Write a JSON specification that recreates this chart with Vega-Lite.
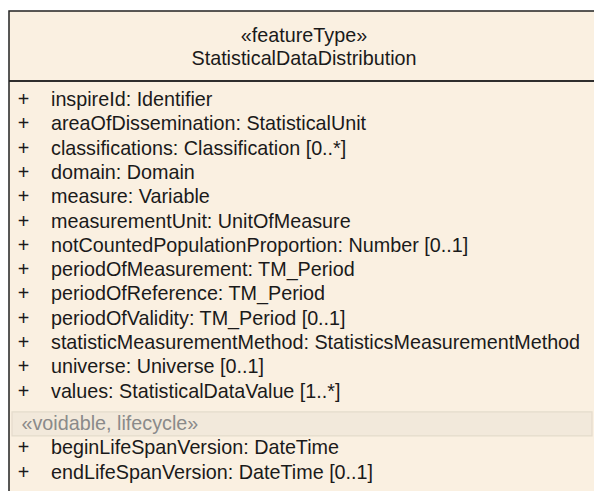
{
  "$schema": "https://vega.github.io/schema/vega-lite/v6.json",
  "width": 590,
  "height": 490,
  "autosize": {"type": "none"},
  "padding": {"left": 9, "top": 11, "right": -5, "bottom": -10},
  "background": "white",
  "config": {
    "view": {"fill": "#FAF0E1", "stroke": "#222222", "strokeWidth": 1.5},
    "text": {"font": "Liberation Sans", "fontSize": 19.75, "color": "#1A1A1A", "baseline": "middle"}
  },
  "datasets": {
    "header": [
      {"line": 0, "text": "«featureType»"},
      {"line": 1, "text": "StatisticalDataDistribution"}
    ],
    "body": [
      {"line": 0, "section": "main", "vis": "+", "text": "inspireId: Identifier"},
      {"line": 1, "section": "main", "vis": "+", "text": "areaOfDissemination: StatisticalUnit"},
      {"line": 2, "section": "main", "vis": "+", "text": "classifications: Classification [0..*]"},
      {"line": 3, "section": "main", "vis": "+", "text": "domain: Domain"},
      {"line": 4, "section": "main", "vis": "+", "text": "measure: Variable"},
      {"line": 5, "section": "main", "vis": "+", "text": "measurementUnit: UnitOfMeasure"},
      {"line": 6, "section": "main", "vis": "+", "text": "notCountedPopulationProportion: Number [0..1]"},
      {"line": 7, "section": "main", "vis": "+", "text": "periodOfMeasurement: TM_Period"},
      {"line": 8, "section": "main", "vis": "+", "text": "periodOfReference: TM_Period"},
      {"line": 9, "section": "main", "vis": "+", "text": "periodOfValidity: TM_Period [0..1]"},
      {"line": 10, "section": "main", "vis": "+", "text": "statisticMeasurementMethod: StatisticsMeasurementMethod"},
      {"line": 11, "section": "main", "vis": "+", "text": "universe: Universe [0..1]"},
      {"line": 12, "section": "main", "vis": "+", "text": "values: StatisticalDataValue [1..*]"},
      {"line": 13, "section": "group", "vis": "", "text": "«voidable, lifecycle»"},
      {"line": 14, "section": "lifecycle", "vis": "+", "text": "beginLifeSpanVersion: DateTime"},
      {"line": 15, "section": "lifecycle", "vis": "+", "text": "endLifeSpanVersion: DateTime [0..1]"}
    ]
  },
  "resolve": {"scale": {"y": "independent"}},
  "layer": [
    {
      "data": {"name": "header"},
      "encoding": {
        "y": {"field": "line", "type": "quantitative", "axis": null,
              "scale": {"domain": [0, 1], "range": [25, 48], "zero": false, "nice": false}}
      },
      "layer": [
        {"mark": {"type": "text", "align": "center", "x": {"expr": "width/2"}},
         "encoding": {"text": {"field": "text"}}},
        {"mark": {"type": "rule", "stroke": "#222222", "strokeWidth": 1.5},
         "encoding": {"y": {"datum": 1.96}}}
      ]
    },
    {
      "data": {"name": "body"},
      "encoding": {
        "y": {"field": "line", "type": "quantitative", "axis": null,
              "scale": {"domain": [0, 15], "range": [89, 453.5], "zero": false, "nice": false}}
      },
      "layer": [
        {"transform": [{"filter": "datum.section == 'group'"}],
         "mark": {"type": "rect", "x": 3, "x2": 583, "yOffset": -4, "y2Offset": 20, "fill": "#F2E9DB", "stroke": "#E4DBCC", "strokeWidth": 1.2},
         "encoding": {"y2": {"field": "line"}}},
        {"transform": [{"filter": "datum.section == 'group'"}],
         "mark": {"type": "text", "align": "left", "x": 12.5, "yOffset": 8, "color": "#8A8A8A"},
         "encoding": {"text": {"field": "text"}}},
        {"transform": [{"filter": "datum.section == 'main'"}],
         "mark": {"type": "text", "align": "center", "x": 14.5},
         "encoding": {"text": {"field": "vis"}}},
        {"transform": [{"filter": "datum.section == 'main'"}],
         "mark": {"type": "text", "align": "left", "x": 42},
         "encoding": {"text": {"field": "text"}}},
        {"transform": [{"filter": "datum.section == 'lifecycle'"}],
         "mark": {"type": "text", "align": "center", "x": 14.5, "yOffset": 8},
         "encoding": {"text": {"field": "vis"}}},
        {"transform": [{"filter": "datum.section == 'lifecycle'"}],
         "mark": {"type": "text", "align": "left", "x": 42, "yOffset": 8},
         "encoding": {"text": {"field": "text"}}}
      ]
    }
  ]
}
